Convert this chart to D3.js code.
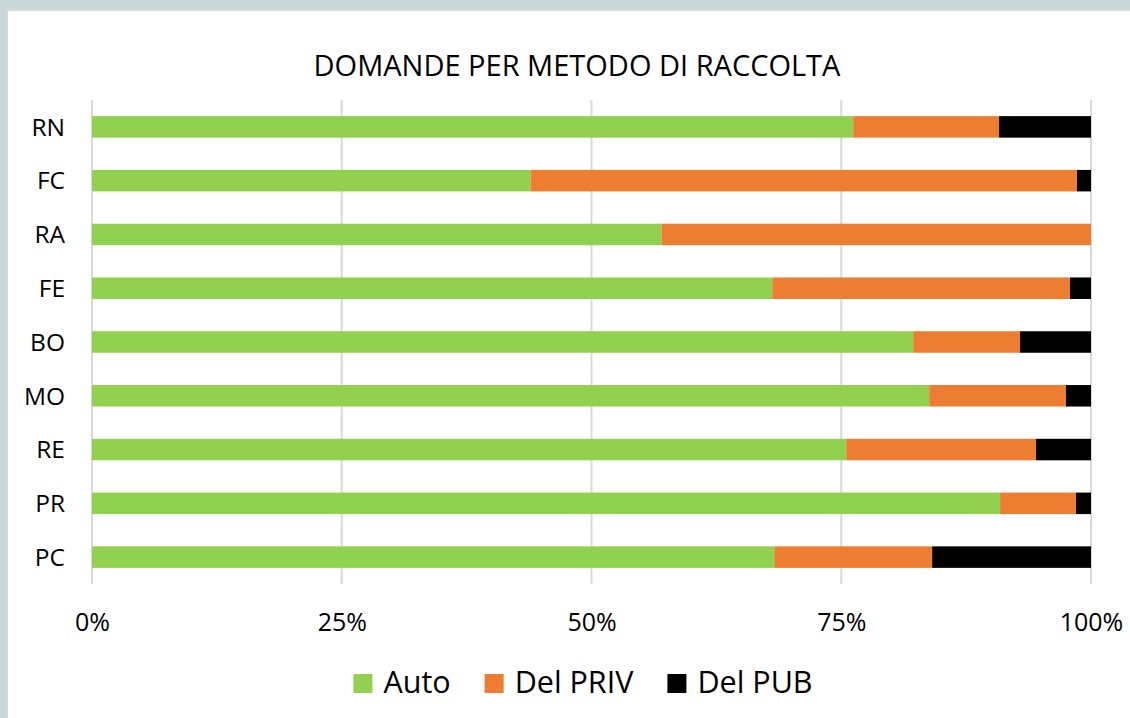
<!DOCTYPE html>
<html>
<head>
<meta charset="utf-8">
<script src="https://d3js.org/d3.v7.min.js"></script>
<style>
  html, body { margin: 0; padding: 0; background: #c6d9d8; }
  svg { display: block; }
  text { font-family: "Open Sans", "DejaVu Sans", sans-serif; fill: #000; }
</style>
</head>
<body>
<svg id="chart" width="1130" height="718"></svg>
<script>
var width = 1130, height = 718

// province codes, top to bottom as shown
var categories = ["RN", "FC", "RA", "FE", "BO", "MO", "RE", "PR", "PC"]
var series = ["Auto", "Del PRIV", "Del PUB"]
var colors = ["#92d050", "#ed7d31", "#000000"]

// shares in percent
var auto    = [76.2, 43.9, 57.0, 68.1, 82.2, 83.8, 75.5, 90.9, 68.3]
var delPriv = [14.6, 54.7, 43.0, 29.8, 10.7, 13.7, 19.0,  7.6, 15.8]
var delPub  = [ 9.2,  1.4,  0.0,  2.1,  7.1,  2.5,  5.5,  1.5, 15.9]

var tickValues = [0, 0.25, 0.5, 0.75, 1]
var title = "DOMANDE PER METODO DI RACCOLTA"

var rows = categories.map((c, i) => {
  var tot = auto[i] + delPriv[i] + delPub[i]
  return {cat: c, "Auto": auto[i] / tot, "Del PRIV": delPriv[i] / tot, "Del PUB": delPub[i] / tot}
})

var stacked = d3.stack().keys(series)(rows)

var svg = d3.select('#chart')

// white chart area inside the frame
svg.append('rect')
  .attr('x', 7).attr('y', 9)
  .attr('width', width - 7).attr('height', height - 9)
  .attr('fill', '#d9d9d9')
svg.append('rect')
  .attr('x', 8).attr('y', 11)
  .attr('width', width - 8).attr('height', height - 11)
  .attr('fill', '#ffffff')

var x = d3.scaleLinear().domain([0, 1]).range([92, 1091])
var y = d3.scaleBand().domain(categories).range([100, 584])
  .paddingInner(0.6).paddingOuter(0.3)

// gridlines
svg.append('g').attr('class', 'grid')
  .selectAll('line')
  .data(tickValues)
  .enter().append('line')
  .attr('x1', d => x(d)).attr('x2', d => x(d))
  .attr('y1', 100).attr('y2', 584)
  .attr('stroke', '#d9d9d9')
  .attr('stroke-width', 2)

// bars
svg.append('g').attr('class', 'bars')
  .selectAll('g')
  .data(stacked)
  .enter().append('g')
  .attr('fill', (d, i) => colors[i])
  .selectAll('rect')
  .data(d => d)
  .enter().append('rect')
  .attr('x', d => x(d[0]))
  .attr('y', d => y(d.data.cat))
  .attr('width', d => Math.max(0, x(d[1]) - x(d[0])))
  .attr('height', y.bandwidth())

// x axis labels
var xAxis = d3.axisBottom(x)
  .tickValues(tickValues)
  .tickFormat(d3.format('.0%'))
  .tickSize(0)
  .tickPadding(0)

var gx = svg.append('g')
  .attr('transform', 'translate(0,584)')
  .call(xAxis)
gx.select('.domain').remove()
gx.selectAll('text')
  .attr('y', 47)
  .attr('dy', null)
  .style('font-family', '"Open Sans", sans-serif')
  .style('font-size', '25px')
  .attr('fill', '#000')

// y axis labels
var yAxis = d3.axisLeft(y).tickSize(0).tickPadding(27)
var gy = svg.append('g')
  .attr('transform', 'translate(92,0)')
  .call(yAxis)
gy.select('.domain').remove()
gy.selectAll('text')
  .attr('dy', '0.36em')
  .style('font-family', '"Open Sans", sans-serif')
  .style('font-size', '24.5px')
  .attr('fill', '#000')

// title
svg.append('text')
  .attr('x', 577).attr('y', 76)
  .attr('text-anchor', 'middle')
  .style('font-size', '29px')
  .text(title)

// legend
var legend = svg.append('g').attr('class', 'legend')
var items = legend.selectAll('g')
  .data(series)
  .enter().append('g')

items.append('rect')
  .attr('width', 19).attr('height', 19)
  .attr('y', 674)
  .attr('fill', (d, i) => colors[i])

items.append('text')
  .attr('x', 30)
  .attr('y', 693)
  .style('font-size', '30.5px')
  .text(d => d)

var pos = 0, offsets = []
items.each(function(d) {
  offsets.push(pos)
  var w = d3.select(this).select('text').node().getComputedTextLength()
  pos += 30 + w + 34
})
var total = pos - 34
var start = 583 - total / 2
items.attr('transform', (d, i) => 'translate(' + (start + offsets[i]) + ',0)')
</script>
</body>
</html>
